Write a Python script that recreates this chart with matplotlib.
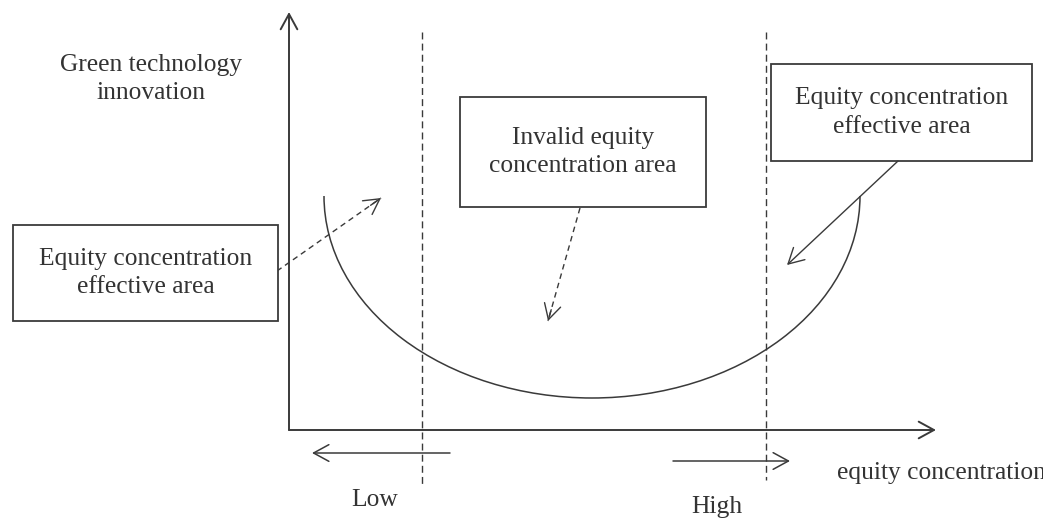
import matplotlib.pyplot as plt
from matplotlib.patches import Arc, Rectangle

plt.rcParams['font.family'] = ['Liberation Serif', 'DejaVu Serif']

# diagram values, in pixel units of the 1043x518 picture (y grows downward)
origin = (289, 430)
y_axis_top = 12
x_axis_end = 936
thresholds = [422, 766]
threshold_top = [32, 32]
threshold_bottom = [485, 480]

# U-shaped curve (half ellipse)
curve_center = (592, 196)
curve_width = 536
curve_height = 404

box_labels = ['Equity concentration\neffective area',
              'Invalid equity\nconcentration area',
              'Equity concentration\neffective area']
box_left = [13, 460, 771]
box_top = [225, 97, 64]
box_right = [278, 706, 1032]
box_bottom = [321, 207, 161]

pointer_start = [(277, 271), (580, 208), (898, 161)]
pointer_end = [(381, 198), (548, 321), (787, 265)]
pointer_dashed = [True, True, False]

dir_labels = ['Low', 'High']
dir_start = [(450, 453), (673, 461)]
dir_end = [(312, 453), (790, 461)]
dir_label_pos = [(375, 500), (717, 507)]

ylabel = 'Green technology\ninnovation'
xlabel = 'equity concentration'

ink = '#3a3a3a'
txt = '#333333'
fs = 18.4
ls_text = 1.4

fig = plt.figure(figsize=(10.43, 5.18), dpi=100)
ax = fig.add_axes([0, 0, 1, 1])
ax.set_xlim(0, 1043)
ax.set_ylim(518, 0)
ax.axis('off')


def arrow(p0, p1, lw=1.1):
    ax.annotate('', xy=p1, xytext=p0,
                arrowprops=dict(arrowstyle='->,head_length=0.55,head_width=0.3',
                                mutation_scale=20, lw=lw, color=ink,
                                shrinkA=0, shrinkB=0))


# axes
arrow(origin, (origin[0], y_axis_top), lw=1.4)
arrow(origin, (x_axis_end, origin[1]), lw=1.4)

# threshold lines
for x, t, b in zip(thresholds, threshold_top, threshold_bottom):
    ax.plot([x, x], [t, b], color=ink, lw=1.0, ls=(0, (5, 3)))

# curve
ax.add_patch(Arc(curve_center, curve_width, curve_height, theta1=0, theta2=180,
                 color=ink, lw=1.1))

# boxes
for lab, l, t, r, b in zip(box_labels, box_left, box_top, box_right, box_bottom):
    ax.add_patch(Rectangle((l, t), r - l, b - t, fill=True, facecolor='white',
                           edgecolor=ink, lw=1.3, zorder=3))
    ax.text((l + r) / 2, (t + b) / 2, lab, ha='center', va='center',
            fontsize=fs, color=txt, zorder=4, linespacing=ls_text)

# pointers from boxes
for p0, p1, dashed in zip(pointer_start, pointer_end, pointer_dashed):
    if dashed:
        ax.plot([p0[0], p1[0]], [p0[1], p1[1]], color=ink, lw=1.0,
                ls=(0, (4, 3)))
        near = (p1[0] - 0.1 * (p1[0] - p0[0]), p1[1] - 0.1 * (p1[1] - p0[1]))
        arrow(near, p1, lw=1.0)
    else:
        arrow(p0, p1, lw=1.0)

# low / high arrows
for lab, p0, p1, pos in zip(dir_labels, dir_start, dir_end, dir_label_pos):
    arrow(p0, p1, lw=1.1)
    ax.text(pos[0], pos[1], lab, ha='center', va='center', fontsize=fs, color=txt)

ax.text(151, 79, ylabel, ha='center', va='center', fontsize=fs, color=txt,
        linespacing=ls_text)
ax.text(837, 473, xlabel, ha='left', va='center', fontsize=fs, color=txt)

fig.savefig('out.png', dpi=100)
